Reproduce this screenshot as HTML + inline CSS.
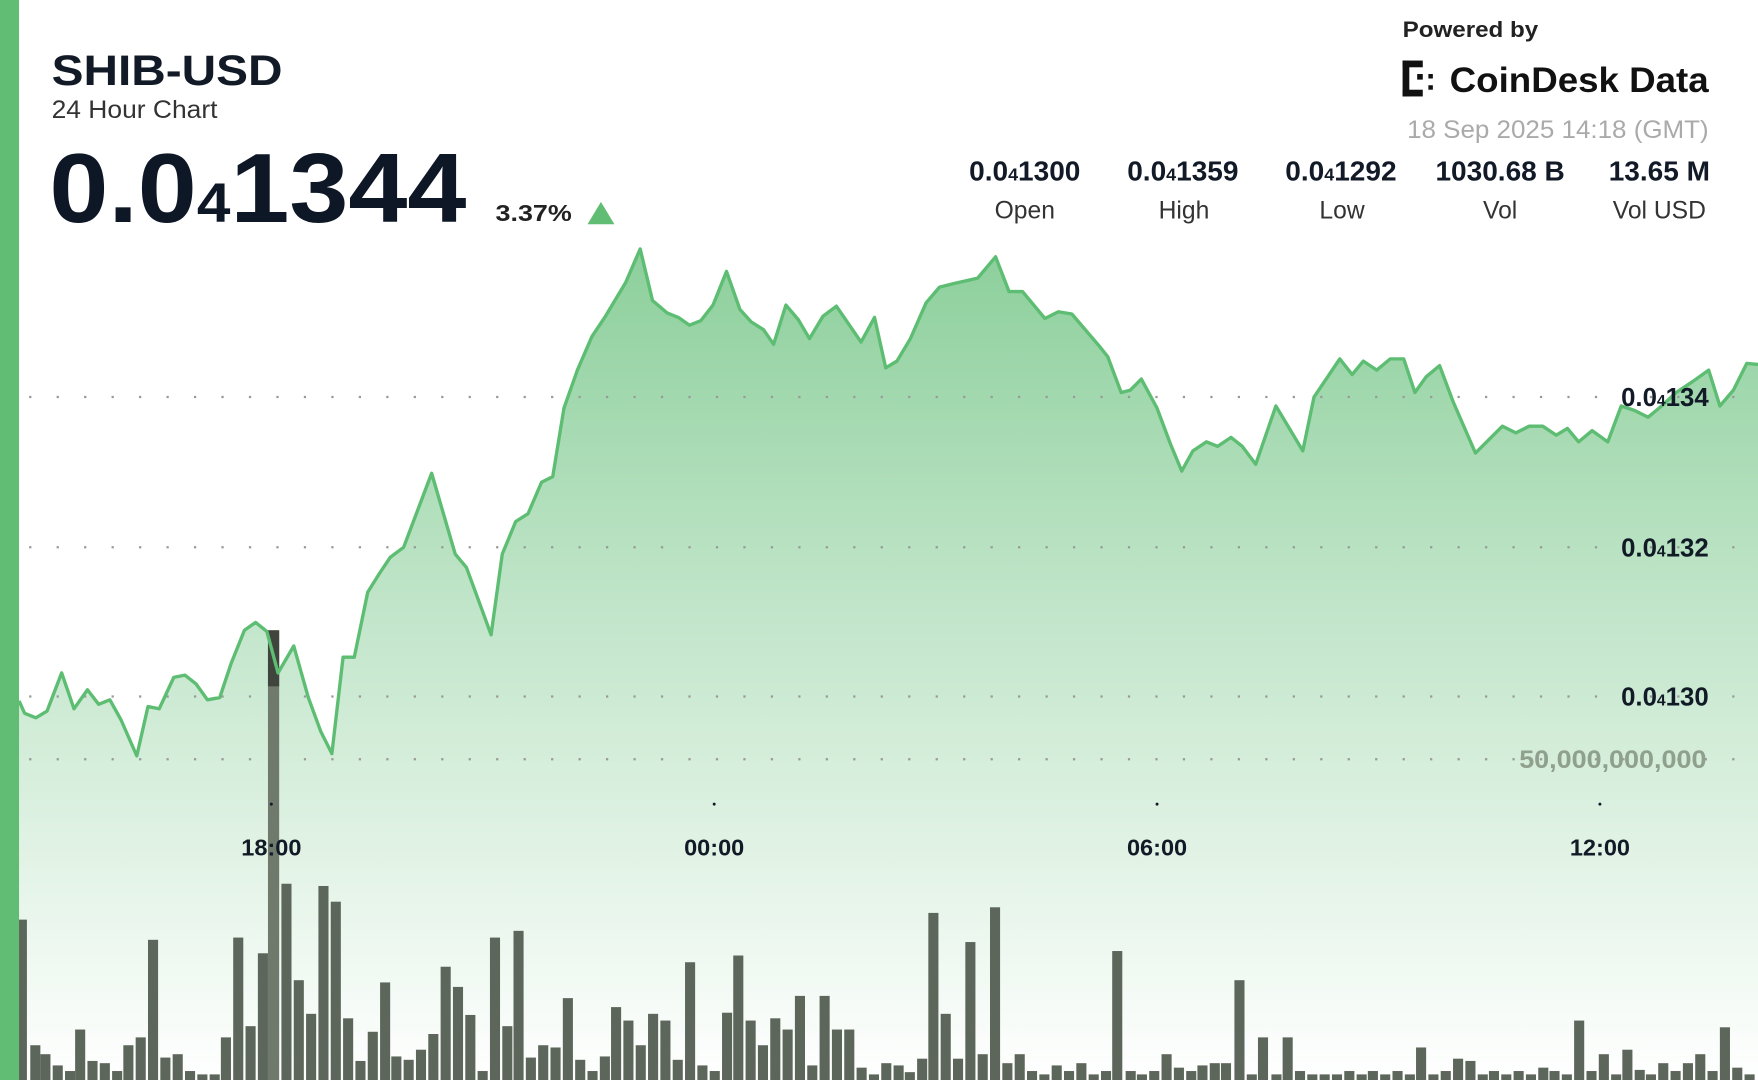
<!DOCTYPE html>
<html><head><meta charset="utf-8"><style>
html,body{margin:0;padding:0;background:#fff;overflow:hidden}
svg{display:block}
text{font-family:"Liberation Sans",sans-serif}
#bars rect{width:9px}
</style></head><body>
<svg width="1758" height="1080" viewBox="0 0 1568 963" preserveAspectRatio="none" xmlns="http://www.w3.org/2000/svg">
<defs>
<linearGradient id="g" gradientUnits="userSpaceOnUse" x1="0" y1="220" x2="0" y2="963">
<stop offset="0" stop-color="#8ccf9b"/>
<stop offset="0.45" stop-color="#c3e6cb"/>
<stop offset="1" stop-color="#ffffff"/>
</linearGradient>
</defs>
<rect x="0" y="0" width="1568" height="963" fill="#fff"/>
<path id="area" fill="url(#g)" d="M17,625 L22,636 32,640 42,634 55,600 66,632 78,615 88,628 98,624 108,642 122,674 132,630 142,632 155,604 165,602 175,610 185,624 196,622 206,592 218,562 228,555 238,563 248,600 262,576 275,622 286,652 296,672 306,586 316,586 328,528 338,512 348,497 360,488 385,422 406,494 416,506 430,544 438,566 448,494 460,465 471,458 483,430 493,425 503,364 515,330 528,300 540,282 558,252 571,222 582,268 595,279 605,283 615,290 625,286 636,272 648,242 660,276 670,287 681,294 690,307 701,272 712,285 722,302 734,282 746,273 768,305 780,283 790,328 800,322 812,302 826,270 838,256 850,253 872,248 888,229 900,260 912,260 932,284 944,278 956,280 968,294 980,308 988,318 1000,350 1008,348 1018,338 1032,364 1044,396 1054,420 1064,402 1076,394 1086,398 1098,390 1108,398 1120,414 1138,362 1150,382 1162,402 1172,354 1195,320 1206,334 1216,322 1228,330 1240,320 1252,320 1262,350 1272,336 1284,326 1296,358 1316,404 1328,392 1340,380 1352,386 1364,380 1376,380 1388,388 1398,382 1408,394 1420,384 1434,394 1446,362 1458,366 1470,372 1482,362 1495,350 1510,340 1524,330 1534,362 1546,348 1558,324 1568,325 L1568,963 L17,963 Z"/>
<g stroke="#999" stroke-width="2" stroke-dasharray="2 22.5" fill="none">
<line x1="26" y1="354" x2="1568" y2="354"/>
<line x1="26" y1="488" x2="1568" y2="488"/>
<line x1="26" y1="621" x2="1568" y2="621"/>
<line x1="26" y1="677" x2="1568" y2="677"/>
</g>
<g fill="#5d665a" id="bars" transform="translate(-1,0)">
<rect x="16" y="820" width="7" height="143"/><rect x="28" y="932" width="7" height="31"/><rect x="37" y="940" width="7" height="23"/><rect x="48" y="950" width="7" height="13"/><rect x="59" y="955" width="7" height="8"/><rect x="68" y="918" width="7" height="45"/><rect x="79" y="946" width="7" height="17"/><rect x="90" y="948" width="7" height="15"/><rect x="101" y="955" width="7" height="8"/><rect x="111" y="932" width="7" height="31"/><rect x="122" y="925" width="7" height="38"/><rect x="133" y="838" width="7" height="125"/><rect x="144" y="943" width="7" height="20"/><rect x="155" y="940" width="7" height="23"/><rect x="166" y="955" width="7" height="8"/><rect x="177" y="958" width="7" height="5"/><rect x="188" y="958" width="7" height="5"/><rect x="198" y="925" width="7" height="38"/><rect x="209" y="836" width="7" height="127"/><rect x="220" y="915" width="7" height="48"/><rect x="231" y="850" width="7" height="113"/><rect x="252" y="788" width="7" height="175"/><rect x="263" y="874" width="7" height="89"/><rect x="274" y="904" width="7" height="59"/><rect x="285" y="790" width="7" height="173"/><rect x="296" y="804" width="7" height="159"/><rect x="307" y="908" width="7" height="55"/><rect x="318" y="946" width="7" height="17"/><rect x="329" y="920" width="7" height="43"/><rect x="340" y="876" width="7" height="87"/><rect x="350" y="942" width="7" height="21"/><rect x="361" y="945" width="7" height="18"/><rect x="372" y="936" width="7" height="27"/><rect x="383" y="922" width="7" height="41"/><rect x="394" y="862" width="7" height="101"/><rect x="405" y="880" width="7" height="83"/><rect x="416" y="905" width="7" height="58"/><rect x="427" y="955" width="7" height="8"/><rect x="438" y="836" width="7" height="127"/><rect x="449" y="915" width="7" height="48"/><rect x="459" y="830" width="7" height="133"/><rect x="470" y="943" width="7" height="20"/><rect x="481" y="932" width="7" height="31"/><rect x="492" y="934" width="7" height="29"/><rect x="503" y="890" width="7" height="73"/><rect x="514" y="945" width="7" height="18"/><rect x="525" y="955" width="7" height="8"/><rect x="536" y="942" width="7" height="21"/><rect x="546" y="898" width="7" height="65"/><rect x="557" y="910" width="7" height="53"/><rect x="568" y="932" width="7" height="31"/><rect x="579" y="904" width="7" height="59"/><rect x="590" y="910" width="7" height="53"/><rect x="601" y="945" width="7" height="18"/><rect x="612" y="858" width="7" height="105"/><rect x="623" y="950" width="7" height="13"/><rect x="634" y="955" width="7" height="8"/><rect x="645" y="903" width="7" height="60"/><rect x="655" y="852" width="7" height="111"/><rect x="666" y="910" width="7" height="53"/><rect x="677" y="932" width="7" height="31"/><rect x="688" y="908" width="7" height="55"/><rect x="699" y="918" width="7" height="45"/><rect x="710" y="888" width="7" height="75"/><rect x="721" y="950" width="7" height="13"/><rect x="732" y="888" width="7" height="75"/><rect x="743" y="918" width="7" height="45"/><rect x="754" y="918" width="7" height="45"/><rect x="765" y="952" width="7" height="11"/><rect x="776" y="958" width="7" height="5"/><rect x="787" y="948" width="7" height="15"/><rect x="798" y="950" width="7" height="13"/><rect x="808" y="956" width="7" height="7"/><rect x="819" y="944" width="7" height="19"/><rect x="829" y="814" width="7" height="149"/><rect x="840" y="904" width="7" height="59"/><rect x="851" y="944" width="7" height="19"/><rect x="862" y="840" width="7" height="123"/><rect x="873" y="940" width="7" height="23"/><rect x="884" y="809" width="7" height="154"/><rect x="895" y="948" width="7" height="15"/><rect x="906" y="940" width="7" height="23"/><rect x="917" y="955" width="7" height="8"/><rect x="928" y="958" width="7" height="5"/><rect x="939" y="950" width="7" height="13"/><rect x="950" y="955" width="7" height="8"/><rect x="961" y="948" width="7" height="15"/><rect x="972" y="958" width="7" height="5"/><rect x="983" y="955" width="7" height="8"/><rect x="993" y="848" width="7" height="115"/><rect x="1005" y="955" width="7" height="8"/><rect x="1015" y="958" width="7" height="5"/><rect x="1026" y="955" width="7" height="8"/><rect x="1037" y="940" width="7" height="23"/><rect x="1048" y="952" width="7" height="11"/><rect x="1059" y="955" width="7" height="8"/><rect x="1069" y="950" width="7" height="13"/><rect x="1080" y="948" width="7" height="15"/><rect x="1090" y="948" width="7" height="15"/><rect x="1102" y="874" width="7" height="89"/><rect x="1113" y="958" width="7" height="5"/><rect x="1123" y="925" width="7" height="38"/><rect x="1135" y="958" width="7" height="5"/><rect x="1145" y="925" width="7" height="38"/><rect x="1156" y="955" width="7" height="8"/><rect x="1167" y="958" width="7" height="5"/><rect x="1178" y="958" width="7" height="5"/><rect x="1189" y="958" width="7" height="5"/><rect x="1200" y="955" width="7" height="8"/><rect x="1211" y="958" width="7" height="5"/><rect x="1221" y="955" width="7" height="8"/><rect x="1232" y="958" width="7" height="5"/><rect x="1243" y="955" width="7" height="8"/><rect x="1254" y="958" width="7" height="5"/><rect x="1264" y="934" width="7" height="29"/><rect x="1275" y="958" width="7" height="5"/><rect x="1286" y="955" width="7" height="8"/><rect x="1297" y="944" width="7" height="19"/><rect x="1308" y="946" width="7" height="17"/><rect x="1319" y="958" width="7" height="5"/><rect x="1329" y="955" width="7" height="8"/><rect x="1340" y="958" width="7" height="5"/><rect x="1351" y="955" width="7" height="8"/><rect x="1362" y="958" width="7" height="5"/><rect x="1373" y="952" width="7" height="11"/><rect x="1383" y="955" width="7" height="8"/><rect x="1394" y="958" width="7" height="5"/><rect x="1405" y="910" width="7" height="53"/><rect x="1416" y="955" width="7" height="8"/><rect x="1427" y="940" width="7" height="23"/><rect x="1438" y="958" width="7" height="5"/><rect x="1448" y="936" width="7" height="27"/><rect x="1459" y="954" width="7" height="9"/><rect x="1469" y="958" width="7" height="5"/><rect x="1480" y="948" width="7" height="15"/><rect x="1491" y="955" width="7" height="8"/><rect x="1502" y="948" width="7" height="15"/><rect x="1513" y="940" width="7" height="23"/><rect x="1524" y="955" width="7" height="8"/><rect x="1535" y="916" width="7" height="47"/><rect x="1546" y="952" width="7" height="11"/><rect x="1557" y="958" width="7" height="5"/>
</g>
<rect x="239" y="562" width="10" height="401" fill="#6f7a6c"/>
<rect x="239" y="562" width="10" height="50" fill="#3f453d"/>
<polyline fill="none" stroke="#5dbd72" stroke-width="3" stroke-linejoin="round" points="17,625 22,636 32,640 42,634 55,600 66,632 78,615 88,628 98,624 108,642 122,674 132,630 142,632 155,604 165,602 175,610 185,624 196,622 206,592 218,562 228,555 238,563 248,600 262,576 275,622 286,652 296,672 306,586 316,586 328,528 338,512 348,497 360,488 385,422 406,494 416,506 430,544 438,566 448,494 460,465 471,458 483,430 493,425 503,364 515,330 528,300 540,282 558,252 571,222 582,268 595,279 605,283 615,290 625,286 636,272 648,242 660,276 670,287 681,294 690,307 701,272 712,285 722,302 734,282 746,273 768,305 780,283 790,328 800,322 812,302 826,270 838,256 850,253 872,248 888,229 900,260 912,260 932,284 944,278 956,280 968,294 980,308 988,318 1000,350 1008,348 1018,338 1032,364 1044,396 1054,420 1064,402 1076,394 1086,398 1098,390 1108,398 1120,414 1138,362 1150,382 1162,402 1172,354 1195,320 1206,334 1216,322 1228,330 1240,320 1252,320 1262,350 1272,336 1284,326 1296,358 1316,404 1328,392 1340,380 1352,386 1364,380 1376,380 1388,388 1398,382 1408,394 1420,384 1434,394 1446,362 1458,366 1470,372 1482,362 1495,350 1510,340 1524,330 1534,362 1546,348 1558,324 1568,325"/>
<rect x="0" y="0" width="17" height="963" fill="#62bd74"/>
<g font-weight="bold" font-size="23" fill="#111a26" text-anchor="end">
<text x="1524" y="362">0.0<tspan font-size="14">4</tspan>134</text>
<text x="1524" y="496">0.0<tspan font-size="14">4</tspan>132</text>
<text x="1524" y="629">0.0<tspan font-size="14">4</tspan>130</text>
</g>
<text x="1522" y="685" font-size="22" font-weight="bold" fill="#8fa08c" text-anchor="end" textLength="167" lengthAdjust="spacingAndGlyphs">50,000,000,000</text>
<g fill="#111a26">
<circle cx="242" cy="717" r="1.3"/><circle cx="637" cy="717" r="1.3"/><circle cx="1032" cy="717" r="1.3"/><circle cx="1427" cy="717" r="1.3"/>
</g>
<g font-weight="bold" font-size="21" fill="#111a26" text-anchor="middle">
<text x="242" y="763">18:00</text><text x="637" y="763">00:00</text><text x="1032" y="763">06:00</text><text x="1427" y="763">12:00</text>
</g>
<text x="46" y="76" font-size="38" font-weight="bold" fill="#111a26" textLength="206" lengthAdjust="spacingAndGlyphs">SHIB-USD</text>
<text x="46" y="105" font-size="22" fill="#333" textLength="148" lengthAdjust="spacingAndGlyphs">24 Hour Chart</text>
<text x="44" y="198" font-size="88" font-weight="bold" fill="#0d1726" textLength="372" lengthAdjust="spacingAndGlyphs">0.0<tspan font-size="50">4</tspan>1344</text>
<text x="442" y="197" font-size="21" font-weight="bold" fill="#222" textLength="68" lengthAdjust="spacingAndGlyphs">3.37%</text>
<polygon points="524,200 548,200 536,180" fill="#62bd74"/>
<text x="1251" y="33" font-size="20" font-weight="bold" fill="#222" textLength="121" lengthAdjust="spacingAndGlyphs">Powered by</text>
<g fill="#111">
<rect x="1251" y="54" width="6" height="32"/>
<rect x="1251" y="54" width="18" height="6"/><rect x="1251" y="80" width="18" height="6"/>
<rect x="1264" y="66" width="5" height="5"/><rect x="1274" y="66" width="4" height="4"/><rect x="1274" y="76" width="4" height="4"/>
</g>
<text x="1293" y="82" font-size="31" font-weight="bold" fill="#111" textLength="231" lengthAdjust="spacingAndGlyphs">CoinDesk Data</text>
<text x="1524" y="123" font-size="22" fill="#aaa" text-anchor="end" textLength="269" lengthAdjust="spacingAndGlyphs">18 Sep 2025 14:18 (GMT)</text>
<g font-size="25" font-weight="bold" fill="#111a26" text-anchor="middle">
<text x="914" y="161">0.0<tspan font-size="16">4</tspan>1300</text>
<text x="1055" y="161">0.0<tspan font-size="16">4</tspan>1359</text>
<text x="1196" y="161">0.0<tspan font-size="16">4</tspan>1292</text>
<text x="1338" y="161">1030.68 B</text>
<text x="1480" y="161">13.65 M</text>
</g>
<g font-size="22" fill="#333" text-anchor="middle">
<text x="914" y="195">Open</text><text x="1056" y="195">High</text><text x="1197" y="195">Low</text><text x="1338" y="195">Vol</text><text x="1480" y="195">Vol USD</text>
</g>
</svg>
</body></html>
